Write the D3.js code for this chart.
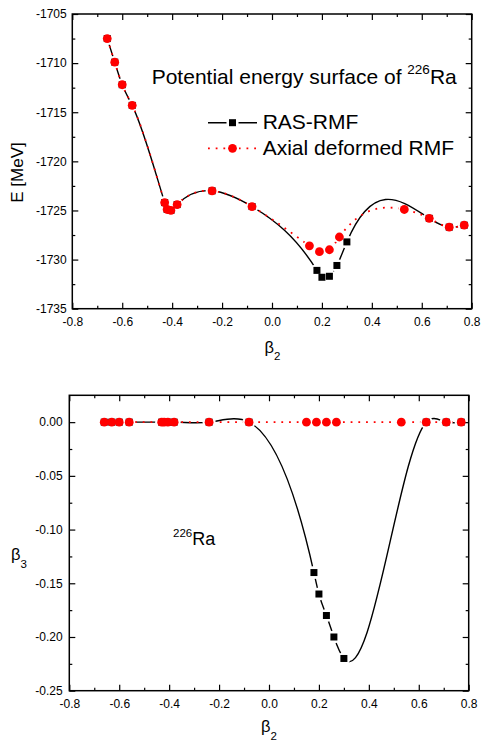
<!DOCTYPE html>
<html>
<head>
<meta charset="utf-8">
<title>Potential energy surface of 226Ra</title>
<script src="https://d3js.org/d3.v7.min.js"></script>
<style>
  body { margin: 0; background: #fff; }
  svg { display: block; font-family: "Liberation Sans", Arial, sans-serif; }
  .tick text { font-size: 12px; fill: #000; }
  .tick line { stroke: #000; stroke-width: 1.2; }
</style>
</head>
<body>
<div id="chart"></div>
<script>
// values
const redBeta2 = [-0.66, -0.63, -0.60, -0.56, -0.43, -0.42, -0.405, -0.38, -0.24, -0.08, 0.15, 0.19, 0.23, 0.27, 0.53, 0.63, 0.71, 0.77];
const redE     = [-1707.5, -1709.9, -1712.2, -1714.3, -1724.2, -1724.9, -1725.0, -1724.4, -1723.0, -1724.6, -1728.6, -1729.2, -1729.0, -1727.7, -1724.9, -1725.8, -1726.7, -1726.5];
const redBeta3 = [0, 0, 0, 0, 0, 0, 0, 0, 0, 0, 0, 0, 0, 0, 0, 0, 0, 0];

const blackBeta2 = [-0.66, -0.63, -0.60, -0.56, -0.43, -0.42, -0.405, -0.38, -0.24, -0.08, 0.18, 0.20, 0.23, 0.26, 0.30, 0.63, 0.71, 0.77];
const blackE     = [-1707.5, -1709.9, -1712.2, -1714.3, -1724.2, -1724.9, -1725.0, -1724.4, -1723.0, -1724.6, -1731.1, -1731.8, -1731.7, -1730.6, -1728.2, -1725.8, -1726.7, -1726.5];
const blackBeta3 = [0, 0, 0, 0, 0, 0, 0, 0, 0, 0, -0.14, -0.16, -0.18, -0.20, -0.22, 0, 0, 0];

const xTicks = [-0.8, -0.6, -0.4, -0.2, 0.0, 0.2, 0.4, 0.6, 0.8];
const xMinor = [-0.7, -0.5, -0.3, -0.1, 0.1, 0.3, 0.5, 0.7];
const eTicks = [-1735, -1730, -1725, -1720, -1715, -1710, -1705];
const eMinor = [-1732.5, -1727.5, -1722.5, -1717.5, -1712.5, -1707.5];
const b3Ticks = [-0.25, -0.20, -0.15, -0.10, -0.05, 0.00];
const b3Minor = [-0.225, -0.175, -0.125, -0.075, -0.025];

const legendLabels = ["RAS-RMF", "Axial deformed RMF"];

const W = 481, H = 741;
const svg = d3.select("#chart").append("svg")
  .attr("width", W).attr("height", H);

// natural cubic spline in x (like the plotting program's spline connection)
function SplineX(context) { this._context = context; }
SplineX.prototype = {
  areaStart: function() {}, areaEnd: function() {},
  lineStart: function() { this._x = []; this._y = []; },
  point: function(x, y) { this._x.push(+x); this._y.push(+y); },
  lineEnd: function() {
    var x = this._x, y = this._y, n = x.length, c = this._context;
    if (!n) return;
    c.moveTo(x[0], y[0]);
    if (n < 3) { if (n === 2) c.lineTo(x[1], y[1]); return; }
    var h = [], M = new Array(n).fill(0), i;
    for (i = 0; i < n - 1; i++) h.push(x[i + 1] - x[i]);
    // tridiagonal solve for second derivatives, natural ends
    var a = [], b = [], cc = [], d = [];
    for (i = 1; i < n - 1; i++) {
      a.push(h[i - 1]); b.push(2 * (h[i - 1] + h[i])); cc.push(h[i]);
      d.push(6 * ((y[i + 1] - y[i]) / h[i] - (y[i] - y[i - 1]) / h[i - 1]));
    }
    var m = b.length;
    for (i = 1; i < m; i++) {
      var w = a[i] / b[i - 1];
      b[i] -= w * cc[i - 1];
      d[i] -= w * d[i - 1];
    }
    var sol = new Array(m);
    sol[m - 1] = d[m - 1] / b[m - 1];
    for (i = m - 2; i >= 0; i--) sol[i] = (d[i] - cc[i] * sol[i + 1]) / b[i];
    for (i = 0; i < m; i++) M[i + 1] = sol[i];
    for (i = 0; i < n - 1; i++) {
      var s = (y[i + 1] - y[i]) / h[i];
      var m0 = s - h[i] * (2 * M[i] + M[i + 1]) / 6;
      var m1 = s + h[i] * (M[i] + 2 * M[i + 1]) / 6;
      c.bezierCurveTo(x[i] + h[i] / 3, y[i] + m0 * h[i] / 3,
                      x[i + 1] - h[i] / 3, y[i + 1] - m1 * h[i] / 3,
                      x[i + 1], y[i + 1]);
    }
  }
};
function curveSplineX(context) { return new SplineX(context); }

function betaLabel(g, x, y, sub, anchor) {
  const t = g.append("text")
    .attr("x", x).attr("y", y)
    .attr("text-anchor", anchor || "middle")
    .style("font-size", "16.5px");
  t.append("tspan").text("\u03b2");
  t.append("tspan").attr("dy", 7.5).style("font-size", "11.5px").text(sub);
}

function panel(opt) {
  const g = svg.append("g");
  const x = d3.scaleLinear().domain([-0.8, 0.8]).range([opt.left, opt.right]);
  const y = d3.scaleLinear().domain(opt.yDomain).range([opt.bottom, opt.top]);

  function addAxis(axis, tr, vals, size, fmt, pad) {
    const a = g.append("g").attr("transform", tr)
      .call(axis.tickValues(vals).tickSize(-size).tickPadding(pad)
        .tickFormat(fmt || (() => "")));
    a.select(".domain").remove();
    return a;
  }
  const pb = "translate(0," + opt.bottom + ")";
  const pt = "translate(0," + opt.top + ")";
  const pl = "translate(" + opt.left + ",0)";
  const pr = "translate(" + opt.right + ",0)";
  addAxis(d3.axisBottom(x), pb, xTicks, 6, d => d.toFixed(1), opt.xPad);
  addAxis(d3.axisBottom(x), pb, xMinor, 3, null, 0);
  addAxis(d3.axisTop(x), pt, xTicks, 6, null, 0);
  addAxis(d3.axisTop(x), pt, xMinor, 3, null, 0);
  addAxis(d3.axisLeft(y), pl, opt.yTicks, 6, opt.yFmt, opt.yPad);
  addAxis(d3.axisLeft(y), pl, opt.yMinor, 3, null, 0);
  addAxis(d3.axisRight(y), pr, opt.yTicks, 6, null, 0);
  addAxis(d3.axisRight(y), pr, opt.yMinor, 3, null, 0);

  g.append("rect")
    .attr("x", opt.left).attr("y", opt.top)
    .attr("width", opt.right - opt.left).attr("height", opt.bottom - opt.top)
    .attr("fill", "none").attr("stroke", "#000").attr("stroke-width", 1.5);

  const black = blackBeta2.map((b, i) => [b, opt.blackY[i]]);
  const red = redBeta2.map((b, i) => [b, opt.redY[i]]);
  const line = d3.line().x(d => x(d[0])).y(d => y(d[1])).curve(curveSplineX);

  // gaps of the connecting line round each symbol
  function gapMask(id, pts, r) {
    const mk = svg.append("defs").append("mask").attr("id", id)
      .attr("maskUnits", "userSpaceOnUse")
      .attr("x", 0).attr("y", 0).attr("width", W).attr("height", H);
    mk.append("rect").attr("width", W).attr("height", H).attr("fill", "#fff");
    mk.selectAll("circle").data(pts).enter().append("circle")
      .attr("cx", d => x(d[0])).attr("cy", d => y(d[1])).attr("r", r).attr("fill", "#000");
  }
  gapMask(opt.id + "-bk", black, 6.5);
  gapMask(opt.id + "-rd", red, 6);

  g.append("path").datum(black)
    .attr("d", line).attr("fill", "none")
    .attr("stroke", "#000").attr("stroke-width", 1.4)
    .attr("mask", "url(#" + opt.id + "-bk)");
  g.selectAll(".sq").data(black).enter().append("rect")
    .attr("class", "sq")
    .attr("x", d => x(d[0]) - 3.5).attr("y", d => y(d[1]) - 3.5)
    .attr("width", 7).attr("height", 7).attr("fill", "#000");

  g.append("path").datum(red)
    .attr("d", line).attr("fill", "none")
    .attr("stroke", "#ff0000").attr("stroke-width", 1.8)
    .attr("stroke-dasharray", "1.8,5.9")
    .attr("mask", "url(#" + opt.id + "-rd)");
  g.selectAll(".dot").data(red).enter().append("circle")
    .attr("class", "dot")
    .attr("cx", d => x(d[0])).attr("cy", d => y(d[1]))
    .attr("r", 4.4).attr("fill", "#ff0000");

  return g;
}

// upper panel: energy
const upper = panel({
  id: "pe", left: 72.3, right: 471.7, top: 14, bottom: 308.7,
  yDomain: [-1735, -1705], yTicks: eTicks, yMinor: eMinor,
  yFmt: d => String(d), yPad: 5.6, xPad: 8.5,
  blackY: blackE, redY: redE
});
upper.append("text")
  .attr("transform", "translate(23,172.5) rotate(-90)")
  .attr("text-anchor", "middle").style("font-size", "17px")
  .text("E [MeV]");
betaLabel(upper, 272.5, 352.5, "2");

const title = upper.append("text").attr("x", 151.7).attr("y", 84.3).style("font-size", "21px");
title.append("tspan").text("Potential energy surface of ");
title.append("tspan").attr("dy", -10).style("font-size", "13.5px").text("226");
title.append("tspan").attr("dy", 10).text("Ra");

// legend
const leg = upper.append("g");
leg.append("line").attr("x1", 208).attr("x2", 257).attr("y1", 122.7).attr("y2", 122.7)
  .attr("stroke", "#000").attr("stroke-width", 1.4);
leg.append("rect").attr("x", 226.5).attr("y", 116.7).attr("width", 12).attr("height", 12).attr("fill", "#fff");
leg.append("rect").attr("x", 229).attr("y", 119.2).attr("width", 7).attr("height", 7).attr("fill", "#000");
leg.append("line").attr("x1", 208).attr("x2", 257).attr("y1", 148.3).attr("y2", 148.3)
  .attr("stroke", "#ff0000").attr("stroke-width", 1.8).attr("stroke-dasharray", "1.8,5.9");
leg.append("circle").attr("cx", 232.5).attr("cy", 148.3).attr("r", 6.5).attr("fill", "#fff");
leg.append("circle").attr("cx", 232.5).attr("cy", 148.3).attr("r", 4.4).attr("fill", "#ff0000");
leg.selectAll(".lt").data(legendLabels).enter().append("text")
  .attr("class", "lt")
  .attr("x", 262.7).attr("y", (d, i) => 129.3 + i * 25.7)
  .style("font-size", "21px").text(d => d);

// lower panel: octupole deformation
const lower = panel({
  id: "b3", left: 69.3, right: 468.7, top: 395.3, bottom: 690.7,
  yDomain: [-0.25, 0.025], yTicks: b3Ticks, yMinor: b3Minor,
  yFmt: d => d.toFixed(2), yPad: 6.6, xPad: 8.3,
  blackY: blackBeta3, redY: redBeta3
});
betaLabel(lower, 11, 560, "3", "start");
betaLabel(lower, 269, 732, "2");
const ra = lower.append("text").attr("x", 173).attr("y", 545);
ra.append("tspan").attr("dy", -8.3).style("font-size", "11.5px").text("226");
ra.append("tspan").attr("dy", 8.3).style("font-size", "18px").text("Ra");
</script>
</body>
</html>
